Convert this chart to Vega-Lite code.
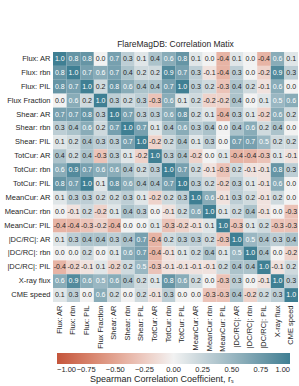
{
"$schema": "https://vega.github.io/schema/vega-lite/v6.json",
"width": 245, "height": 250,
"autosize": {"type": "none"},
"padding": {"left": 53, "top": 52, "right": 1, "bottom": 84},
"title": {"text": "FlareMagDB: Correlation Matix", "fontSize": 8.5, "font": "Liberation Sans", "fontWeight": "normal", "offset": 4, "color": "#262626"},
"config": {"view": {"stroke": null}, "font": "Liberation Sans", "locale": {"number": {"decimal": ".", "thousands": ",", "grouping": [3], "currency": ["$", ""], "minus": "-"}}},
"data": {"values": [
{"y":"Flux: AR","x":"Flux: AR","r":1.0},{"y":"Flux: AR","x":"Flux: rbn","r":0.8},{"y":"Flux: AR","x":"Flux: PIL","r":0.8},{"y":"Flux: AR","x":"Flux Fraction","r":0.0},{"y":"Flux: AR","x":"Shear: AR","r":0.7},{"y":"Flux: AR","x":"Shear: rbn","r":0.3},{"y":"Flux: AR","x":"Shear: PIL","r":0.1},{"y":"Flux: AR","x":"TotCur: AR","r":0.4},{"y":"Flux: AR","x":"TotCur: rbn","r":0.6},{"y":"Flux: AR","x":"TotCur: PIL","r":0.8},{"y":"Flux: AR","x":"MeanCur: AR","r":0.1},{"y":"Flux: AR","x":"MeanCur: rbn","r":0.0},{"y":"Flux: AR","x":"MeanCur: PIL","r":-0.4},{"y":"Flux: AR","x":"|DC/RC|: AR","r":0.1},{"y":"Flux: AR","x":"|DC/RC|: rbn","r":-0.0},{"y":"Flux: AR","x":"|DC/RC|: PIL","r":-0.4},{"y":"Flux: AR","x":"X-ray flux","r":0.6},{"y":"Flux: AR","x":"CME speed","r":0.1},
{"y":"Flux: rbn","x":"Flux: AR","r":0.8},{"y":"Flux: rbn","x":"Flux: rbn","r":1.0},{"y":"Flux: rbn","x":"Flux: PIL","r":0.7},{"y":"Flux: rbn","x":"Flux Fraction","r":0.6},{"y":"Flux: rbn","x":"Shear: AR","r":0.7},{"y":"Flux: rbn","x":"Shear: rbn","r":0.4},{"y":"Flux: rbn","x":"Shear: PIL","r":0.2},{"y":"Flux: rbn","x":"TotCur: AR","r":0.2},{"y":"Flux: rbn","x":"TotCur: rbn","r":0.9},{"y":"Flux: rbn","x":"TotCur: PIL","r":0.7},{"y":"Flux: rbn","x":"MeanCur: AR","r":0.3},{"y":"Flux: rbn","x":"MeanCur: rbn","r":-0.1},{"y":"Flux: rbn","x":"MeanCur: PIL","r":-0.4},{"y":"Flux: rbn","x":"|DC/RC|: AR","r":0.3},{"y":"Flux: rbn","x":"|DC/RC|: rbn","r":-0.0},{"y":"Flux: rbn","x":"|DC/RC|: PIL","r":-0.2},{"y":"Flux: rbn","x":"X-ray flux","r":0.9},{"y":"Flux: rbn","x":"CME speed","r":0.3},
{"y":"Flux: PIL","x":"Flux: AR","r":0.8},{"y":"Flux: PIL","x":"Flux: rbn","r":0.7},{"y":"Flux: PIL","x":"Flux: PIL","r":1.0},{"y":"Flux: PIL","x":"Flux Fraction","r":0.2},{"y":"Flux: PIL","x":"Shear: AR","r":0.8},{"y":"Flux: PIL","x":"Shear: rbn","r":0.6},{"y":"Flux: PIL","x":"Shear: PIL","r":0.4},{"y":"Flux: PIL","x":"TotCur: AR","r":0.4},{"y":"Flux: PIL","x":"TotCur: rbn","r":0.7},{"y":"Flux: PIL","x":"TotCur: PIL","r":1.0},{"y":"Flux: PIL","x":"MeanCur: AR","r":0.3},{"y":"Flux: PIL","x":"MeanCur: rbn","r":0.2},{"y":"Flux: PIL","x":"MeanCur: PIL","r":-0.3},{"y":"Flux: PIL","x":"|DC/RC|: AR","r":0.4},{"y":"Flux: PIL","x":"|DC/RC|: rbn","r":0.2},{"y":"Flux: PIL","x":"|DC/RC|: PIL","r":-0.1},{"y":"Flux: PIL","x":"X-ray flux","r":0.6},{"y":"Flux: PIL","x":"CME speed","r":0.0},
{"y":"Flux Fraction","x":"Flux: AR","r":0.0},{"y":"Flux Fraction","x":"Flux: rbn","r":0.6},{"y":"Flux Fraction","x":"Flux: PIL","r":0.2},{"y":"Flux Fraction","x":"Flux Fraction","r":1.0},{"y":"Flux Fraction","x":"Shear: AR","r":0.3},{"y":"Flux Fraction","x":"Shear: rbn","r":0.2},{"y":"Flux Fraction","x":"Shear: PIL","r":0.3},{"y":"Flux Fraction","x":"TotCur: AR","r":-0.3},{"y":"Flux Fraction","x":"TotCur: rbn","r":0.6},{"y":"Flux Fraction","x":"TotCur: PIL","r":0.1},{"y":"Flux Fraction","x":"MeanCur: AR","r":0.2},{"y":"Flux Fraction","x":"MeanCur: rbn","r":-0.2},{"y":"Flux Fraction","x":"MeanCur: PIL","r":-0.2},{"y":"Flux Fraction","x":"|DC/RC|: AR","r":0.4},{"y":"Flux Fraction","x":"|DC/RC|: rbn","r":-0.0},{"y":"Flux Fraction","x":"|DC/RC|: PIL","r":0.1},{"y":"Flux Fraction","x":"X-ray flux","r":0.5},{"y":"Flux Fraction","x":"CME speed","r":0.6},
{"y":"Shear: AR","x":"Flux: AR","r":0.7},{"y":"Shear: AR","x":"Flux: rbn","r":0.7},{"y":"Shear: AR","x":"Flux: PIL","r":0.8},{"y":"Shear: AR","x":"Flux Fraction","r":0.3},{"y":"Shear: AR","x":"Shear: AR","r":1.0},{"y":"Shear: AR","x":"Shear: rbn","r":0.7},{"y":"Shear: AR","x":"Shear: PIL","r":0.3},{"y":"Shear: AR","x":"TotCur: AR","r":0.3},{"y":"Shear: AR","x":"TotCur: rbn","r":0.6},{"y":"Shear: AR","x":"TotCur: PIL","r":0.8},{"y":"Shear: AR","x":"MeanCur: AR","r":0.2},{"y":"Shear: AR","x":"MeanCur: rbn","r":0.1},{"y":"Shear: AR","x":"MeanCur: PIL","r":-0.4},{"y":"Shear: AR","x":"|DC/RC|: AR","r":0.3},{"y":"Shear: AR","x":"|DC/RC|: rbn","r":0.1},{"y":"Shear: AR","x":"|DC/RC|: PIL","r":-0.2},{"y":"Shear: AR","x":"X-ray flux","r":0.6},{"y":"Shear: AR","x":"CME speed","r":0.2},
{"y":"Shear: rbn","x":"Flux: AR","r":0.3},{"y":"Shear: rbn","x":"Flux: rbn","r":0.4},{"y":"Shear: rbn","x":"Flux: PIL","r":0.6},{"y":"Shear: rbn","x":"Flux Fraction","r":0.2},{"y":"Shear: rbn","x":"Shear: AR","r":0.7},{"y":"Shear: rbn","x":"Shear: rbn","r":1.0},{"y":"Shear: rbn","x":"Shear: PIL","r":0.7},{"y":"Shear: rbn","x":"TotCur: AR","r":0.1},{"y":"Shear: rbn","x":"TotCur: rbn","r":0.4},{"y":"Shear: rbn","x":"TotCur: PIL","r":0.6},{"y":"Shear: rbn","x":"MeanCur: AR","r":0.3},{"y":"Shear: rbn","x":"MeanCur: rbn","r":0.4},{"y":"Shear: rbn","x":"MeanCur: PIL","r":-0.0},{"y":"Shear: rbn","x":"|DC/RC|: AR","r":0.4},{"y":"Shear: rbn","x":"|DC/RC|: rbn","r":0.6},{"y":"Shear: rbn","x":"|DC/RC|: PIL","r":0.2},{"y":"Shear: rbn","x":"X-ray flux","r":0.4},{"y":"Shear: rbn","x":"CME speed","r":0.0},
{"y":"Shear: PIL","x":"Flux: AR","r":0.1},{"y":"Shear: PIL","x":"Flux: rbn","r":0.2},{"y":"Shear: PIL","x":"Flux: PIL","r":0.4},{"y":"Shear: PIL","x":"Flux Fraction","r":0.3},{"y":"Shear: PIL","x":"Shear: AR","r":0.3},{"y":"Shear: PIL","x":"Shear: rbn","r":0.7},{"y":"Shear: PIL","x":"Shear: PIL","r":1.0},{"y":"Shear: PIL","x":"TotCur: AR","r":-0.2},{"y":"Shear: PIL","x":"TotCur: rbn","r":0.2},{"y":"Shear: PIL","x":"TotCur: PIL","r":0.4},{"y":"Shear: PIL","x":"MeanCur: AR","r":0.1},{"y":"Shear: PIL","x":"MeanCur: rbn","r":0.3},{"y":"Shear: PIL","x":"MeanCur: PIL","r":0.0},{"y":"Shear: PIL","x":"|DC/RC|: AR","r":0.7},{"y":"Shear: PIL","x":"|DC/RC|: rbn","r":0.7},{"y":"Shear: PIL","x":"|DC/RC|: PIL","r":0.5},{"y":"Shear: PIL","x":"X-ray flux","r":0.2},{"y":"Shear: PIL","x":"CME speed","r":0.2},
{"y":"TotCur: AR","x":"Flux: AR","r":0.4},{"y":"TotCur: AR","x":"Flux: rbn","r":0.2},{"y":"TotCur: AR","x":"Flux: PIL","r":0.4},{"y":"TotCur: AR","x":"Flux Fraction","r":-0.3},{"y":"TotCur: AR","x":"Shear: AR","r":0.3},{"y":"TotCur: AR","x":"Shear: rbn","r":0.1},{"y":"TotCur: AR","x":"Shear: PIL","r":-0.2},{"y":"TotCur: AR","x":"TotCur: AR","r":1.0},{"y":"TotCur: AR","x":"TotCur: rbn","r":0.3},{"y":"TotCur: AR","x":"TotCur: PIL","r":0.4},{"y":"TotCur: AR","x":"MeanCur: AR","r":-0.2},{"y":"TotCur: AR","x":"MeanCur: rbn","r":-0.0},{"y":"TotCur: AR","x":"MeanCur: PIL","r":0.1},{"y":"TotCur: AR","x":"|DC/RC|: AR","r":-0.4},{"y":"TotCur: AR","x":"|DC/RC|: rbn","r":-0.4},{"y":"TotCur: AR","x":"|DC/RC|: PIL","r":-0.3},{"y":"TotCur: AR","x":"X-ray flux","r":0.1},{"y":"TotCur: AR","x":"CME speed","r":-0.1},
{"y":"TotCur: rbn","x":"Flux: AR","r":0.6},{"y":"TotCur: rbn","x":"Flux: rbn","r":0.9},{"y":"TotCur: rbn","x":"Flux: PIL","r":0.7},{"y":"TotCur: rbn","x":"Flux Fraction","r":0.6},{"y":"TotCur: rbn","x":"Shear: AR","r":0.6},{"y":"TotCur: rbn","x":"Shear: rbn","r":0.4},{"y":"TotCur: rbn","x":"Shear: PIL","r":0.2},{"y":"TotCur: rbn","x":"TotCur: AR","r":0.3},{"y":"TotCur: rbn","x":"TotCur: rbn","r":1.0},{"y":"TotCur: rbn","x":"TotCur: PIL","r":0.7},{"y":"TotCur: rbn","x":"MeanCur: AR","r":0.2},{"y":"TotCur: rbn","x":"MeanCur: rbn","r":-0.1},{"y":"TotCur: rbn","x":"MeanCur: PIL","r":-0.3},{"y":"TotCur: rbn","x":"|DC/RC|: AR","r":0.2},{"y":"TotCur: rbn","x":"|DC/RC|: rbn","r":-0.1},{"y":"TotCur: rbn","x":"|DC/RC|: PIL","r":-0.1},{"y":"TotCur: rbn","x":"X-ray flux","r":0.8},{"y":"TotCur: rbn","x":"CME speed","r":0.3},
{"y":"TotCur: PIL","x":"Flux: AR","r":0.8},{"y":"TotCur: PIL","x":"Flux: rbn","r":0.7},{"y":"TotCur: PIL","x":"Flux: PIL","r":1.0},{"y":"TotCur: PIL","x":"Flux Fraction","r":0.1},{"y":"TotCur: PIL","x":"Shear: AR","r":0.8},{"y":"TotCur: PIL","x":"Shear: rbn","r":0.6},{"y":"TotCur: PIL","x":"Shear: PIL","r":0.4},{"y":"TotCur: PIL","x":"TotCur: AR","r":0.4},{"y":"TotCur: PIL","x":"TotCur: rbn","r":0.7},{"y":"TotCur: PIL","x":"TotCur: PIL","r":1.0},{"y":"TotCur: PIL","x":"MeanCur: AR","r":0.3},{"y":"TotCur: PIL","x":"MeanCur: rbn","r":0.2},{"y":"TotCur: PIL","x":"MeanCur: PIL","r":-0.2},{"y":"TotCur: PIL","x":"|DC/RC|: AR","r":0.3},{"y":"TotCur: PIL","x":"|DC/RC|: rbn","r":0.1},{"y":"TotCur: PIL","x":"|DC/RC|: PIL","r":-0.1},{"y":"TotCur: PIL","x":"X-ray flux","r":0.6},{"y":"TotCur: PIL","x":"CME speed","r":-0.0},
{"y":"MeanCur: AR","x":"Flux: AR","r":0.1},{"y":"MeanCur: AR","x":"Flux: rbn","r":0.3},{"y":"MeanCur: AR","x":"Flux: PIL","r":0.3},{"y":"MeanCur: AR","x":"Flux Fraction","r":0.2},{"y":"MeanCur: AR","x":"Shear: AR","r":0.2},{"y":"MeanCur: AR","x":"Shear: rbn","r":0.3},{"y":"MeanCur: AR","x":"Shear: PIL","r":0.1},{"y":"MeanCur: AR","x":"TotCur: AR","r":-0.2},{"y":"MeanCur: AR","x":"TotCur: rbn","r":0.2},{"y":"MeanCur: AR","x":"TotCur: PIL","r":0.3},{"y":"MeanCur: AR","x":"MeanCur: AR","r":1.0},{"y":"MeanCur: AR","x":"MeanCur: rbn","r":0.6},{"y":"MeanCur: AR","x":"MeanCur: PIL","r":-0.1},{"y":"MeanCur: AR","x":"|DC/RC|: AR","r":0.3},{"y":"MeanCur: AR","x":"|DC/RC|: rbn","r":0.2},{"y":"MeanCur: AR","x":"|DC/RC|: PIL","r":-0.1},{"y":"MeanCur: AR","x":"X-ray flux","r":0.2},{"y":"MeanCur: AR","x":"CME speed","r":0.0},
{"y":"MeanCur: rbn","x":"Flux: AR","r":0.0},{"y":"MeanCur: rbn","x":"Flux: rbn","r":-0.1},{"y":"MeanCur: rbn","x":"Flux: PIL","r":0.2},{"y":"MeanCur: rbn","x":"Flux Fraction","r":-0.2},{"y":"MeanCur: rbn","x":"Shear: AR","r":0.1},{"y":"MeanCur: rbn","x":"Shear: rbn","r":0.4},{"y":"MeanCur: rbn","x":"Shear: PIL","r":0.3},{"y":"MeanCur: rbn","x":"TotCur: AR","r":-0.0},{"y":"MeanCur: rbn","x":"TotCur: rbn","r":-0.1},{"y":"MeanCur: rbn","x":"TotCur: PIL","r":0.2},{"y":"MeanCur: rbn","x":"MeanCur: AR","r":0.6},{"y":"MeanCur: rbn","x":"MeanCur: rbn","r":1.0},{"y":"MeanCur: rbn","x":"MeanCur: PIL","r":0.1},{"y":"MeanCur: rbn","x":"|DC/RC|: AR","r":0.2},{"y":"MeanCur: rbn","x":"|DC/RC|: rbn","r":0.4},{"y":"MeanCur: rbn","x":"|DC/RC|: PIL","r":-0.1},{"y":"MeanCur: rbn","x":"X-ray flux","r":-0.0},{"y":"MeanCur: rbn","x":"CME speed","r":-0.3},
{"y":"MeanCur: PIL","x":"Flux: AR","r":-0.4},{"y":"MeanCur: PIL","x":"Flux: rbn","r":-0.4},{"y":"MeanCur: PIL","x":"Flux: PIL","r":-0.3},{"y":"MeanCur: PIL","x":"Flux Fraction","r":-0.2},{"y":"MeanCur: PIL","x":"Shear: AR","r":-0.4},{"y":"MeanCur: PIL","x":"Shear: rbn","r":-0.0},{"y":"MeanCur: PIL","x":"Shear: PIL","r":0.0},{"y":"MeanCur: PIL","x":"TotCur: AR","r":0.1},{"y":"MeanCur: PIL","x":"TotCur: rbn","r":-0.3},{"y":"MeanCur: PIL","x":"TotCur: PIL","r":-0.2},{"y":"MeanCur: PIL","x":"MeanCur: AR","r":-0.1},{"y":"MeanCur: PIL","x":"MeanCur: rbn","r":0.1},{"y":"MeanCur: PIL","x":"MeanCur: PIL","r":1.0},{"y":"MeanCur: PIL","x":"|DC/RC|: AR","r":-0.3},{"y":"MeanCur: PIL","x":"|DC/RC|: rbn","r":0.1},{"y":"MeanCur: PIL","x":"|DC/RC|: PIL","r":0.2},{"y":"MeanCur: PIL","x":"X-ray flux","r":-0.3},{"y":"MeanCur: PIL","x":"CME speed","r":-0.3},
{"y":"|DC/RC|: AR","x":"Flux: AR","r":0.1},{"y":"|DC/RC|: AR","x":"Flux: rbn","r":0.3},{"y":"|DC/RC|: AR","x":"Flux: PIL","r":0.4},{"y":"|DC/RC|: AR","x":"Flux Fraction","r":0.4},{"y":"|DC/RC|: AR","x":"Shear: AR","r":0.3},{"y":"|DC/RC|: AR","x":"Shear: rbn","r":0.4},{"y":"|DC/RC|: AR","x":"Shear: PIL","r":0.7},{"y":"|DC/RC|: AR","x":"TotCur: AR","r":-0.4},{"y":"|DC/RC|: AR","x":"TotCur: rbn","r":0.2},{"y":"|DC/RC|: AR","x":"TotCur: PIL","r":0.3},{"y":"|DC/RC|: AR","x":"MeanCur: AR","r":0.3},{"y":"|DC/RC|: AR","x":"MeanCur: rbn","r":0.2},{"y":"|DC/RC|: AR","x":"MeanCur: PIL","r":-0.3},{"y":"|DC/RC|: AR","x":"|DC/RC|: AR","r":1.0},{"y":"|DC/RC|: AR","x":"|DC/RC|: rbn","r":0.5},{"y":"|DC/RC|: AR","x":"|DC/RC|: PIL","r":0.4},{"y":"|DC/RC|: AR","x":"X-ray flux","r":0.3},{"y":"|DC/RC|: AR","x":"CME speed","r":0.4},
{"y":"|DC/RC|: rbn","x":"Flux: AR","r":-0.0},{"y":"|DC/RC|: rbn","x":"Flux: rbn","r":-0.0},{"y":"|DC/RC|: rbn","x":"Flux: PIL","r":0.2},{"y":"|DC/RC|: rbn","x":"Flux Fraction","r":-0.0},{"y":"|DC/RC|: rbn","x":"Shear: AR","r":0.1},{"y":"|DC/RC|: rbn","x":"Shear: rbn","r":0.6},{"y":"|DC/RC|: rbn","x":"Shear: PIL","r":0.7},{"y":"|DC/RC|: rbn","x":"TotCur: AR","r":-0.4},{"y":"|DC/RC|: rbn","x":"TotCur: rbn","r":-0.1},{"y":"|DC/RC|: rbn","x":"TotCur: PIL","r":0.1},{"y":"|DC/RC|: rbn","x":"MeanCur: AR","r":0.2},{"y":"|DC/RC|: rbn","x":"MeanCur: rbn","r":0.4},{"y":"|DC/RC|: rbn","x":"MeanCur: PIL","r":0.1},{"y":"|DC/RC|: rbn","x":"|DC/RC|: AR","r":0.5},{"y":"|DC/RC|: rbn","x":"|DC/RC|: rbn","r":1.0},{"y":"|DC/RC|: rbn","x":"|DC/RC|: PIL","r":0.4},{"y":"|DC/RC|: rbn","x":"X-ray flux","r":-0.0},{"y":"|DC/RC|: rbn","x":"CME speed","r":-0.2},
{"y":"|DC/RC|: PIL","x":"Flux: AR","r":-0.4},{"y":"|DC/RC|: PIL","x":"Flux: rbn","r":-0.2},{"y":"|DC/RC|: PIL","x":"Flux: PIL","r":-0.1},{"y":"|DC/RC|: PIL","x":"Flux Fraction","r":0.1},{"y":"|DC/RC|: PIL","x":"Shear: AR","r":-0.2},{"y":"|DC/RC|: PIL","x":"Shear: rbn","r":0.2},{"y":"|DC/RC|: PIL","x":"Shear: PIL","r":0.5},{"y":"|DC/RC|: PIL","x":"TotCur: AR","r":-0.3},{"y":"|DC/RC|: PIL","x":"TotCur: rbn","r":-0.1},{"y":"|DC/RC|: PIL","x":"TotCur: PIL","r":-0.1},{"y":"|DC/RC|: PIL","x":"MeanCur: AR","r":-0.1},{"y":"|DC/RC|: PIL","x":"MeanCur: rbn","r":-0.1},{"y":"|DC/RC|: PIL","x":"MeanCur: PIL","r":0.2},{"y":"|DC/RC|: PIL","x":"|DC/RC|: AR","r":0.4},{"y":"|DC/RC|: PIL","x":"|DC/RC|: rbn","r":0.4},{"y":"|DC/RC|: PIL","x":"|DC/RC|: PIL","r":1.0},{"y":"|DC/RC|: PIL","x":"X-ray flux","r":-0.1},{"y":"|DC/RC|: PIL","x":"CME speed","r":0.2},
{"y":"X-ray flux","x":"Flux: AR","r":0.6},{"y":"X-ray flux","x":"Flux: rbn","r":0.9},{"y":"X-ray flux","x":"Flux: PIL","r":0.6},{"y":"X-ray flux","x":"Flux Fraction","r":0.5},{"y":"X-ray flux","x":"Shear: AR","r":0.6},{"y":"X-ray flux","x":"Shear: rbn","r":0.4},{"y":"X-ray flux","x":"Shear: PIL","r":0.2},{"y":"X-ray flux","x":"TotCur: AR","r":0.1},{"y":"X-ray flux","x":"TotCur: rbn","r":0.8},{"y":"X-ray flux","x":"TotCur: PIL","r":0.6},{"y":"X-ray flux","x":"MeanCur: AR","r":0.2},{"y":"X-ray flux","x":"MeanCur: rbn","r":-0.0},{"y":"X-ray flux","x":"MeanCur: PIL","r":-0.3},{"y":"X-ray flux","x":"|DC/RC|: AR","r":0.3},{"y":"X-ray flux","x":"|DC/RC|: rbn","r":-0.0},{"y":"X-ray flux","x":"|DC/RC|: PIL","r":-0.1},{"y":"X-ray flux","x":"X-ray flux","r":1.0},{"y":"X-ray flux","x":"CME speed","r":0.3},
{"y":"CME speed","x":"Flux: AR","r":0.1},{"y":"CME speed","x":"Flux: rbn","r":0.3},{"y":"CME speed","x":"Flux: PIL","r":0.0},{"y":"CME speed","x":"Flux Fraction","r":0.6},{"y":"CME speed","x":"Shear: AR","r":0.2},{"y":"CME speed","x":"Shear: rbn","r":0.0},{"y":"CME speed","x":"Shear: PIL","r":0.2},{"y":"CME speed","x":"TotCur: AR","r":-0.1},{"y":"CME speed","x":"TotCur: rbn","r":0.3},{"y":"CME speed","x":"TotCur: PIL","r":-0.0},{"y":"CME speed","x":"MeanCur: AR","r":0.0},{"y":"CME speed","x":"MeanCur: rbn","r":-0.3},{"y":"CME speed","x":"MeanCur: PIL","r":-0.3},{"y":"CME speed","x":"|DC/RC|: AR","r":0.4},{"y":"CME speed","x":"|DC/RC|: rbn","r":-0.2},{"y":"CME speed","x":"|DC/RC|: PIL","r":0.2},{"y":"CME speed","x":"X-ray flux","r":0.3},{"y":"CME speed","x":"CME speed","r":1.0}
]},
"encoding": {
  "x": {"field": "x", "type": "nominal", "sort": ["Flux: AR","Flux: rbn","Flux: PIL","Flux Fraction","Shear: AR","Shear: rbn","Shear: PIL","TotCur: AR","TotCur: rbn","TotCur: PIL","MeanCur: AR","MeanCur: rbn","MeanCur: PIL","|DC/RC|: AR","|DC/RC|: rbn","|DC/RC|: PIL","X-ray flux","CME speed"],
        "scale": {"paddingInner": 0, "paddingOuter": 0},
        "axis": {"title": null, "domain": false, "ticks": false, "labelAngle": 270, "labelPadding": 3, "labelFontSize": 7.5, "labelColor": "#262626", "labelFont": "Liberation Sans"}},
  "y": {"field": "y", "type": "nominal", "sort": ["Flux: AR","Flux: rbn","Flux: PIL","Flux Fraction","Shear: AR","Shear: rbn","Shear: PIL","TotCur: AR","TotCur: rbn","TotCur: PIL","MeanCur: AR","MeanCur: rbn","MeanCur: PIL","|DC/RC|: AR","|DC/RC|: rbn","|DC/RC|: PIL","X-ray flux","CME speed"],
        "scale": {"paddingInner": 0, "paddingOuter": 0},
        "axis": {"title": null, "domain": false, "ticks": false, "labelPadding": 3, "labelFontSize": 7.5, "labelColor": "#262626", "labelFont": "Liberation Sans"}}
},
"layer": [
  {"mark": {"type": "rect"},
   "encoding": {"color": {"field": "r", "type": "quantitative",
      "scale": {"domain": [-1, 0, 1], "range": ["#c4553b", "#f2f2f2", "#3f7f93"], "interpolate": "lab"},
      "legend": {"orient": "none", "legendX": 4, "legendY": 301, "direction": "horizontal", "gradientLength": 233, "gradientThickness": 11, "gradientStrokeWidth": 0, "padding": 0,
        "values": [-1, -0.75, -0.5, -0.25, 0, 0.25, 0.5, 0.75, 1], "format": ".2f", "labelExpr": "replace(datum.label, '-', '\u2212')",
        "labelFontSize": 7.5, "labelAlign": "center", "labelOverlap": false, "labelColor": "#262626", "labelFont": "Liberation Sans", "labelOffset": 2,
        "title": "Spearman Correlation Coefficient, r\u209b", "titleOrient": "bottom", "titleAnchor": "middle", "titleFontSize": 9, "titleFontWeight": "normal", "titleColor": "#262626", "titleFont": "Liberation Sans", "titlePadding": 1,
        "encode": {"title": {"update": {"dx": {"value": -12}}}}}}}},
  {"mark": {"type": "text", "fontSize": 7, "font": "Liberation Sans"},
   "encoding": {"text": {"field": "r", "type": "quantitative", "format": ".1f"},
      "color": {"condition": {"test": "datum.r >= 0.5", "value": "#ffffff"}, "value": "#262626"}}}
]
}
